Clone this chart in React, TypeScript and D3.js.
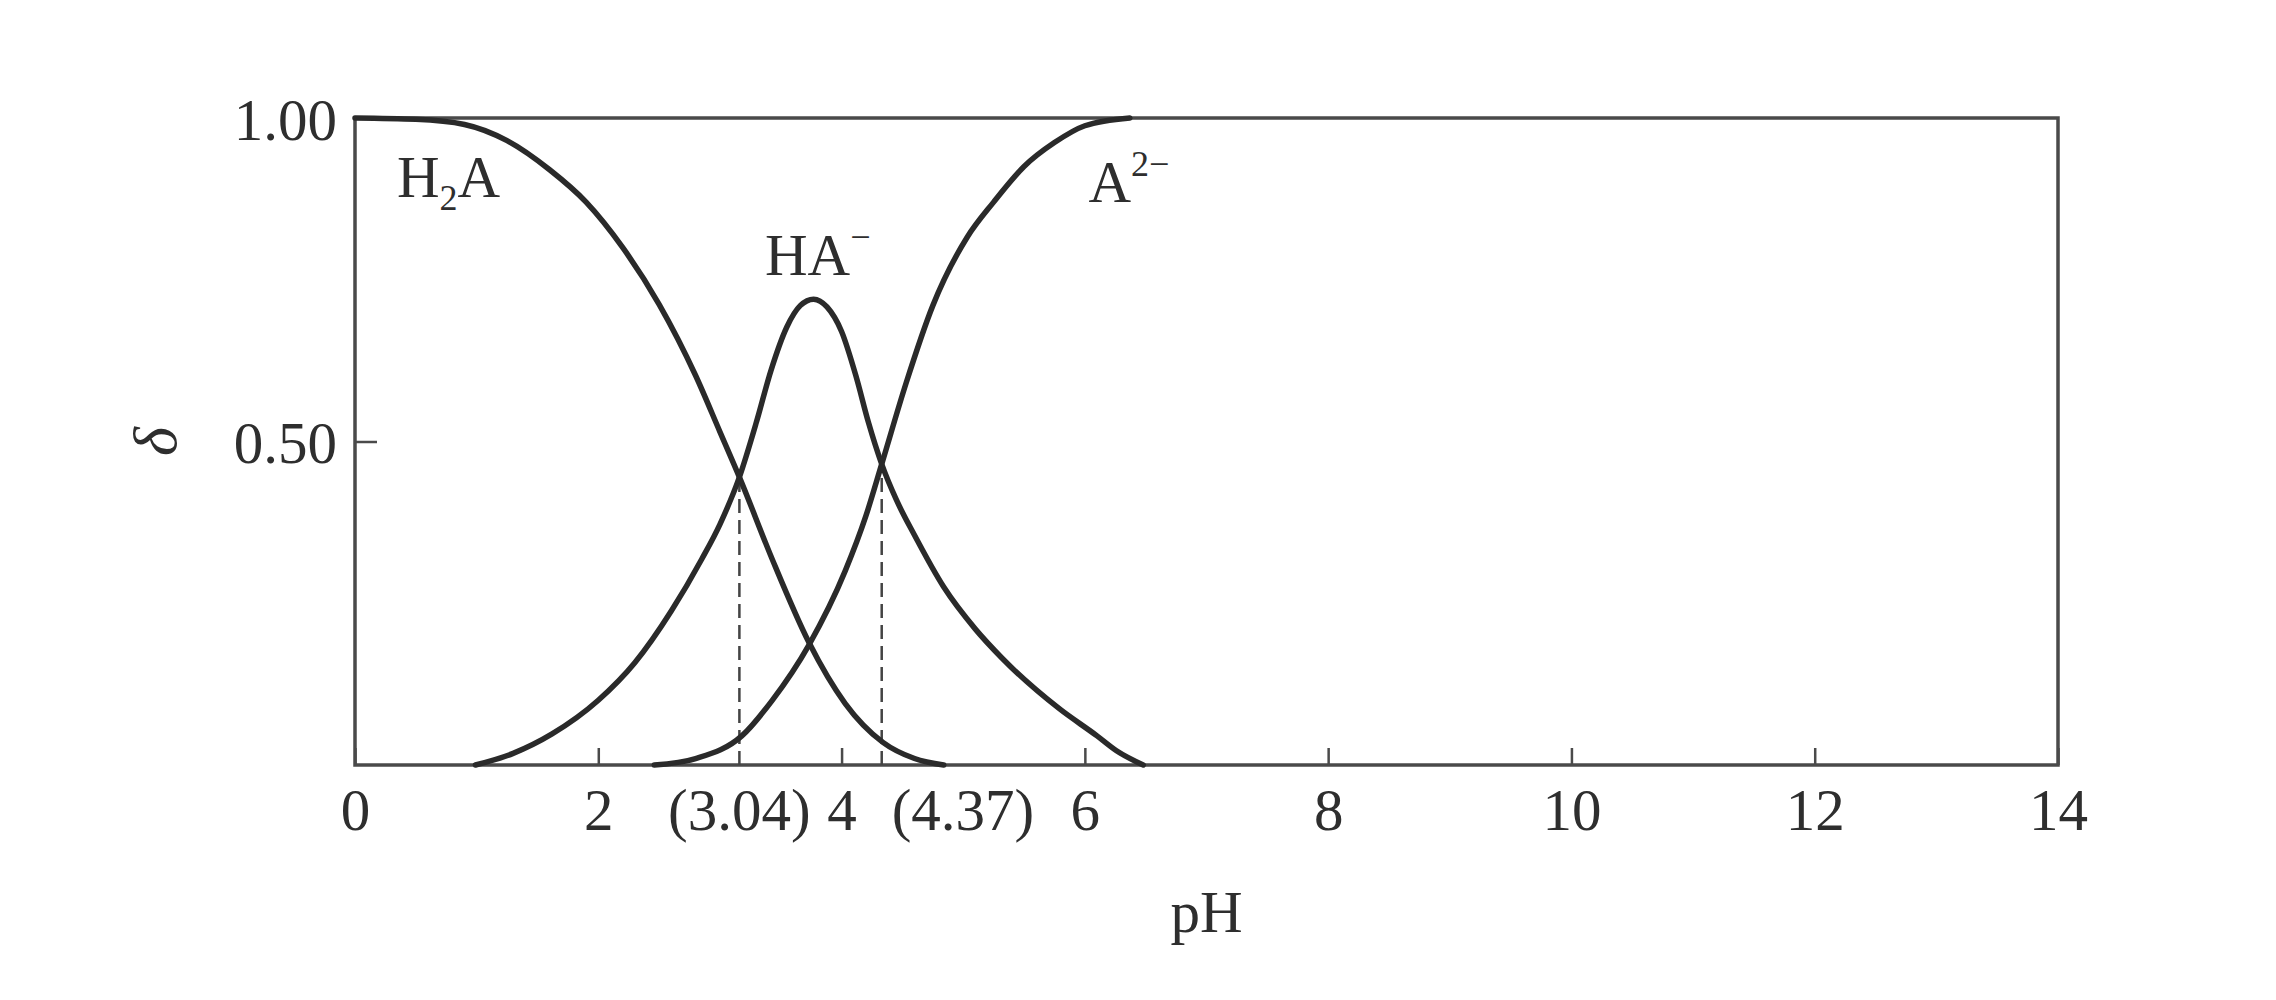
import { useEffect, useRef } from 'react';
import * as d3 from 'd3';

// values: [pH, delta]
const h2aPoints: [number, number][] = [
  [0, 1], [0.5, 0.998], [0.9, 0.99], [1.25, 0.965], [1.6, 0.92], [1.9, 0.87],
  [2.2, 0.8], [2.5, 0.712], [2.8, 0.602], [3.0, 0.515], [3.16, 0.445],
  [3.43, 0.318], [3.73, 0.19], [4.03, 0.095], [4.34, 0.035], [4.6, 0.01],
  [4.84, 0],
];

const haPoints: [number, number][] = [
  [0.99, 0], [1.3, 0.018], [1.62, 0.048], [2.0, 0.1], [2.3, 0.158], [2.6, 0.238],
  [2.85, 0.318], [3.0, 0.372], [3.16, 0.445], [3.3, 0.53], [3.42, 0.61],
  [3.55, 0.677], [3.66, 0.71], [3.77, 0.72], [3.88, 0.708], [4.0, 0.67],
  [4.12, 0.6], [4.22, 0.53], [4.33, 0.465], [4.45, 0.41], [4.6, 0.355],
  [4.84, 0.275], [5.1, 0.21], [5.32, 0.165], [5.79, 0.087], [6.1, 0.045],
  [6.26, 0.022], [6.48, 0],
];

const a2Points: [number, number][] = [
  [2.46, 0], [2.8, 0.01], [3.18, 0.045], [3.43, 0.1], [3.73, 0.185],
  [4.03, 0.3], [4.2, 0.385], [4.33, 0.465], [4.53, 0.59], [4.75, 0.71],
  [5.03, 0.815], [5.25, 0.87], [5.5, 0.925], [5.75, 0.962], [6.0, 0.988],
  [6.37, 1],
];

const xTicks = [0, 2, 4, 6, 8, 10, 12, 14];
const yTicks = [1.0, 0.5];

// crossing points with their pKa annotations
const dropPH = [3.16, 4.33];
const dropDelta = [0.445, 0.465];
const dropLabels = ['(3.04)', '(4.37)'];

const W = 2276;
const H = 1000;
const margin = { left: 355, right: 2276 - 2058, top: 118, bottom: 1000 - 765 };
const FONT = '"Liberation Serif", "Times New Roman", serif';
const INK = '#2e2e2e';

export default function App() {
  const svgRef = useRef<SVGSVGElement>(null);

  useEffect(() => {
    if (!svgRef.current) return;
    const svg = d3.select(svgRef.current);
    svg.selectAll('*').remove();

    const x = d3.scaleLinear().domain([0, 14]).range([margin.left, W - margin.right]);
    const y = d3.scaleLinear().domain([0, 1]).range([H - margin.bottom, margin.top]);

    svg.append('rect').attr('width', W).attr('height', H).attr('fill', '#fff');

    // frame
    svg
      .append('rect')
      .attr('x', x(0))
      .attr('y', y(1))
      .attr('width', x(14) - x(0))
      .attr('height', y(0) - y(1))
      .attr('fill', 'none')
      .attr('stroke', '#4a4a4a')
      .attr('stroke-width', 3.5);

    // x axis, ticks pointing inward
    const xAxis = d3
      .axisBottom(x)
      .tickValues(xTicks)
      .tickSizeInner(-17)
      .tickSizeOuter(0)
      .tickPadding(23)
      .tickFormat(d3.format('d'));
    const gx = svg.append('g').attr('transform', `translate(0,${y(0)})`).call(xAxis);
    gx.select('.domain').remove();
    gx.selectAll('line').attr('stroke', '#4a4a4a').attr('stroke-width', 2.5);
    gx.selectAll('text')
      .attr('fill', INK)
      .style('font-family', FONT)
      .style('font-size', '59px');

    // y axis
    const yAxis = d3
      .axisLeft(y)
      .tickValues(yTicks)
      .tickSizeInner(-22)
      .tickSizeOuter(0)
      .tickPadding(18)
      .tickFormat(d3.format('.2f'));
    const gy = svg.append('g').attr('transform', `translate(${x(0)},0)`).call(yAxis);
    gy.select('.domain').remove();
    gy.selectAll('line').attr('stroke', '#4a4a4a').attr('stroke-width', 2.5);
    gy.selectAll('text')
      .attr('fill', INK)
      .attr('dy', '0.36em')
      .style('font-family', FONT)
      .style('font-size', '59px');

    // dashed drop lines
    svg
      .selectAll('line.drop')
      .data(dropPH)
      .enter()
      .append('line')
      .attr('class', 'drop')
      .attr('x1', (d) => x(d))
      .attr('x2', (d) => x(d))
      .attr('y1', y(0))
      .attr('y2', (d, i) => y(dropDelta[i]))
      .attr('stroke', '#444')
      .attr('stroke-width', 2.5)
      .attr('stroke-dasharray', '14 7');

    // curves
    const line = d3
      .line<[number, number]>()
      .x((d) => x(d[0]))
      .y((d) => y(d[1]))
      .curve(d3.curveMonotoneX);

    [h2aPoints, haPoints, a2Points].forEach((pts) => {
      svg
        .append('path')
        .attr('d', line(pts) || '')
        .attr('fill', 'none')
        .attr('stroke', '#2a2a2a')
        .attr('stroke-width', 5.5)
        .attr('stroke-linecap', 'round');
    });

    // pKa labels under the axis
    svg
      .selectAll('text.pka')
      .data(dropLabels)
      .enter()
      .append('text')
      .attr('class', 'pka')
      .attr('x', (d, i) => (i === 0 ? x(dropPH[i]) : x(dropPH[i]) + 10))
      .attr('y', y(0) + 65)
      .attr('text-anchor', (d, i) => (i === 0 ? 'middle' : 'start'))
      .attr('fill', INK)
      .style('font-family', FONT)
      .style('font-size', '59px')
      .text((d) => d);

    // species labels
    const label = (px: number, py: number) =>
      svg
        .append('text')
        .attr('x', x(px))
        .attr('y', y(py))
        .attr('fill', INK)
        .style('font-family', FONT)
        .style('font-size', '59px');

    const t1 = label(0.345, 0.878);
    t1.append('tspan').text('H');
    t1.append('tspan').attr('dy', 13).style('font-size', '36px').text('2');
    t1.append('tspan').attr('dy', -13).text('A');

    const t2 = label(3.37, 0.757);
    t2.append('tspan').text('HA');
    t2.append('tspan').attr('dy', -26).style('font-size', '36px').text('−');

    const t3 = label(6.03, 0.87);
    t3.append('tspan').text('A');
    t3.append('tspan').attr('dy', -26).style('font-size', '36px').text('2−');

    // axis titles
    svg
      .append('text')
      .attr('x', (x(0) + x(14)) / 2)
      .attr('y', 932)
      .attr('text-anchor', 'middle')
      .attr('fill', INK)
      .style('font-family', FONT)
      .style('font-size', '59px')
      .text('pH');

    svg
      .append('text')
      .attr('transform', `translate(176,${y(0.5)}) rotate(-90)`)
      .attr('text-anchor', 'middle')
      .attr('fill', INK)
      .style('font-family', FONT)
      .style('font-size', '62px')
      .style('font-style', 'italic')
      .text('δ');
  }, []);

  return (
    <svg
      ref={svgRef}
      width={W}
      height={H}
      style={{ position: 'absolute', left: 0, top: 0, display: 'block' }}
    />
  );
}
